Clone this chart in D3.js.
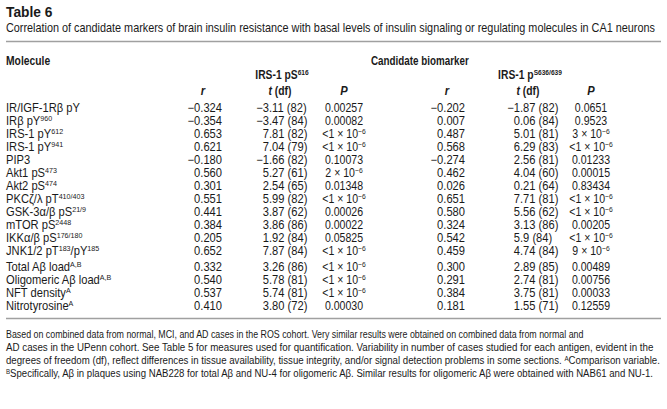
<!DOCTYPE html>
<html><head><meta charset="utf-8">
<script src="https://cdn.jsdelivr.net/npm/d3@7"></script>
<style>html,body{margin:0;padding:0;background:#fff;} svg{display:block;}</style>
</head><body>
<svg id="c" width="667" height="409"></svg>
<script>
// ---------- DATA ----------
const tableTitle = "Table 6";
const tableSubtitle = "Correlation of candidate markers of brain insulin resistance with basal levels of insulin signaling or regulating molecules in CA1 neurons";
const moleculeHeader = "Molecule";
const biomarkerHeader = "Candidate biomarker";
const biomarkers = ["IRS-1 pS^{616}", "IRS-1 p^{S636/639}"];
const statHeaders = ["r", "t (df)", "P"];
const molecules = [
  "IR/IGF-1Rβ pY", "IRβ pY^{960}", "IRS-1 pY^{612}", "IRS-1 pY^{941}", "PIP3",
  "Akt1 pS^{473}", "Akt2 pS^{474}", "PKCζ/λ pT^{410/403}", "GSK-3α/β pS^{21/9}",
  "mTOR pS^{2448}", "IKKα/β pS^{176/180}", "JNK1/2 pT^{183}/pY^{185}",
  "Total Aβ load^{A,B}", "Oligomeric Aβ load^{A,B}", "NFT density^{A}", "Nitrotyrosine^{A}"
];
const comparisonStart = 12; // first comparison-variable row
const r616 = [-0.324, -0.354, 0.653, 0.621, -0.180, 0.560, 0.301, 0.551, 0.441, 0.384, 0.205, 0.652, 0.332, 0.540, 0.537, 0.410];
const t616 = ["−3.11 (82)", "−3.47 (84)", "7.81 (82)", "7.04 (79)", "−1.66 (82)", "5.27 (61)", "2.54 (65)", "5.99 (82)", "3.87 (62)", "3.86 (86)", "1.92 (84)", "7.87 (84)", "3.26 (86)", "5.78 (81)", "5.74 (81)", "3.80 (72)"];
const p616 = ["0.00257", "0.00082", "<1 × 10^{−6}", "<1 × 10^{−6}", "0.10073", "2 × 10^{−6}", "0.01348", "<1 × 10^{−6}", "0.00026", "0.00022", "0.05825", "<1 × 10^{−6}", "<1 × 10^{−6}", "<1 × 10^{−6}", "<1 × 10^{−6}", "0.00030"];
const r636 = [-0.202, 0.007, 0.487, 0.568, -0.274, 0.462, 0.026, 0.651, 0.580, 0.324, 0.542, 0.459, 0.300, 0.291, 0.384, 0.181];
const t636 = ["−1.87 (82)", "0.06 (84)", "5.01 (81)", "6.29 (83)", "2.56 (81)", "4.04 (60)", "0.21 (64)", "7.71 (81)", "5.56 (62)", "3.13 (86)", "5.9 (84)", "4.74 (84)", "2.89 (85)", "2.74 (81)", "3.75 (81)", "1.55 (71)"];
const p636 = ["0.0651", "0.9523", "3 × 10^{−6}", "<1 × 10^{−6}", "0.01233", "0.00015", "0.83434", "<1 × 10^{−6}", "<1 × 10^{−6}", "0.00205", "<1 × 10^{−6}", "9 × 10^{−6}", "0.00489", "0.00756", "0.00033", "0.12559"];
const footnoteLines = [
  "Based on combined data from normal, MCI, and AD cases in the ROS cohort. Very similar results were obtained on combined data from normal and",
  "AD cases in the UPenn cohort. See Table 5 for measures used for quantification. Variability in number of cases studied for each antigen, evident in the",
  "degrees of freedom (df), reflect differences in tissue availability, tissue integrity, and/or signal detection problems in some sections. ^{A}Comparison variable.",
  "^{B}Specifically, Aβ in plaques using NAB228 for total Aβ and NU-4 for oligomeric Aβ. Similar results for oligomeric Aβ were obtained with NAB61 and NU-1."
];

// ---------- LAYOUT ----------
const FONT = "'Liberation Sans', Arial, Helvetica, sans-serif";
const FS = 12, SX = 0.93;
const svg = d3.select("#c").attr("font-family", FONT).attr("fill", "#1a1a1a");
const fmtR = d3.format(".3f");

function rich(t, str, size) {
  const parts = str.split(/(\^\{[^}]*\})/).filter(p => p.length);
  let raised = false;
  const shift = size * 0.3;
  parts.forEach(p => {
    const m = p.match(/^\^\{(.*)\}$/);
    if (m) {
      t.append("tspan").attr("dy", raised ? 0 : -shift).attr("font-size", size * 0.64).text(m[1]);
      raised = true;
    } else {
      t.append("tspan").attr("dy", raised ? shift : 0).text(p);
      raised = false;
    }
  });
  return t;
}
function txt(x, y, str, o = {}) {
  const size = o.size || FS, sx = o.sx || SX;
  const t = svg.append("text")
    .attr("transform", `translate(${x},${y}) scale(${sx},1)`)
    .attr("font-size", size)
    .attr("text-anchor", o.anchor || "start")
    .attr("font-weight", o.bold ? "bold" : null)
    .attr("font-style", o.italic ? "italic" : null);
  return rich(t, str, size);
}
function fitTxt(x, y, str, width, size, bold) {
  const t = txt(x, y, str, {size, sx: 1, bold});
  const w = t.node().getComputedTextLength();
  t.attr("transform", `translate(${x},${y}) scale(${width / w},1)`);
  return t;
}

// title
txt(6, 17, tableTitle, {size: 15, bold: true, sx: 0.92});
fitTxt(6, 32, tableSubtitle, 650, 12.5);
svg.append("line").attr("x1", 6).attr("x2", 661).attr("y1", 41.5).attr("y2", 41.5)
  .attr("stroke", "#a0a0a0").attr("stroke-width", 1.3);

// headers
txt(6, 65, moleculeHeader, {bold: true, sx: 0.86});
txt(371, 65, biomarkerHeader, {bold: true, sx: 0.82});

// columns per block
const blockCols = d3.scaleOrdinal().domain(biomarkers).range([
  {g: 282, hr: 203, ht: 280, r: 222, t: 269, p: 344},
  {g: 530, hr: 447, ht: 528, r: 465, t: 520, p: 591}
]);

// row scale
const rowY = d3.scaleLinear().domain([0, 1]).range([112, 125]);
const rowPos = i => i + (i >= comparisonStart ? 0.2 : 0);

const blocks = [
  {name: biomarkers[0], r: r616, t: t616, p: p616},
  {name: biomarkers[1], r: r636, t: t636, p: p636}
];
blocks.forEach(b => {
  const c = blockCols(b.name);
  txt(c.g, 79, b.name, {bold: true, anchor: "middle", sx: 0.86});
  txt(c.hr, 95, statHeaders[0], {bold: true, italic: true, anchor: "middle"});
  const th = svg.append("text").attr("transform", `translate(${c.ht},95) scale(0.86,1)`)
    .attr("font-size", FS).attr("font-weight", "bold").attr("text-anchor", "middle");
  th.append("tspan").attr("font-style", "italic").text(statHeaders[1].split(" ")[0]);
  th.append("tspan").text(" " + statHeaders[1].split(" ")[1]);
  txt(c.p, 95, statHeaders[2], {bold: true, italic: true, anchor: "middle"});

  b.r.forEach((v, i) => txt(c.r, rowY(rowPos(i)), fmtR(v), {anchor: "end"}));
  b.t.forEach((v, i) => {
    const k = v.indexOf(".");
    txt(c.t, rowY(rowPos(i)), v.slice(0, k), {anchor: "end"});
    txt(c.t, rowY(rowPos(i)), v.slice(k), {anchor: "start"});
  });
  b.p.forEach((v, i) => txt(c.p, rowY(rowPos(i)), v, {anchor: "middle", sx: 0.88}));
});

molecules.forEach((m, i) => txt(6, rowY(rowPos(i)), m));

svg.append("line").attr("x1", 6).attr("x2", 661).attr("y1", 318.5).attr("y2", 318.5)
  .attr("stroke", "#a0a0a0").attr("stroke-width", 1.3);

// footnotes
const footY = d3.scaleLinear().domain([0, 1]).range([338, 351]);
const footW = [578, 648, 655, 648];
footnoteLines.forEach((l, i) => fitTxt(6, footY(i), l, footW[i], 11.5));
</script>
</body></html>
